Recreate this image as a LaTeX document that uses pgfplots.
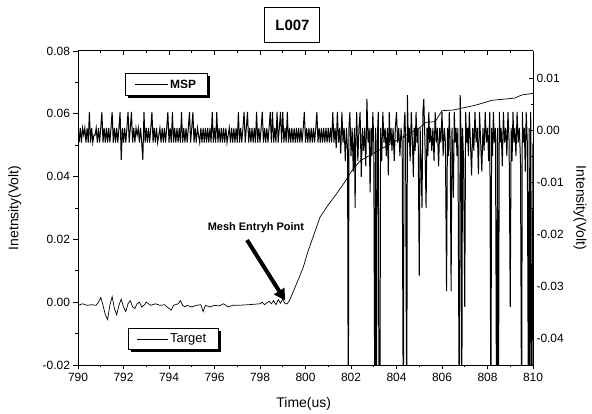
\documentclass[border=0pt]{standalone}
\usepackage{fontspec}
\setmainfont{Liberation Sans}
\usepackage{pgfplots}
\pgfplotsset{compat=1.18}
\usetikzlibrary{arrows.meta, shadows}

\begin{document}
\begin{tikzpicture}
\tikzset{
  legbox/.style={draw, line width=0.8pt, fill=white, anchor=north west,
    drop shadow={shadow xshift=3bp, shadow yshift=-3bp, fill=black, opacity=1}},
  labfont/.style={font=\fontsize{14}{16}\selectfont},
}
\pgfplotsset{
  every axis/.append style={
    scale only axis, width=455bp, height=314bp,
    xmin=790, xmax=810,
    xtick={790,792,...,810}, minor x tick num=1,
    axis line style={line width=1pt},
    major tick style={line width=0.9pt, black}, minor tick style={line width=0.8pt, black},
    major tick length=4.5bp, minor tick length=2.5bp,
    tick label style={font=\fontsize{12}{14}\selectfont},
    /pgf/number format/assume math mode=true,
    scaled y ticks=false, scaled x ticks=false,
  },
}
% left axis: Target
\begin{axis}[
  axis x line*=bottom, axis y line*=left,
  tick align=outside,
  ymin=-0.02, ymax=0.08,
  ytick={-0.02,0,0.02,0.04,0.06,0.08}, minor y tick num=1,
  yticklabel={\pgfmathprintnumber[fixed, fixed zerofill, precision=2]{\tick}},
  xticklabel={\pgfmathprintnumber[fixed, precision=0]{\tick}},
  xlabel={Time(us)},
  ylabel={Inetnsity(Volt)},
  every axis x label/.style={at={(axis description cs:0.496,-0.124)}, anchor=center, labfont},
  every axis y label/.style={at={(axis description cs:-0.139,0.5)}, anchor=center, rotate=90, labfont},
]
\addplot[black, line width=0.7pt] coordinates {
(790.0,-0.0010) (790.2,-0.0005) (790.4,-0.0010) (790.6,-0.0008) (790.8,-0.0010)
(790.9,0.0000) (791.0,0.0015) (791.1,-0.0010) (791.2,-0.0040) (791.3,-0.0055)
(791.4,-0.0010) (791.5,0.0018) (791.6,-0.0020) (791.7,-0.0040) (791.8,-0.0010)
(791.9,0.0010) (792.0,-0.0015) (792.1,-0.0030) (792.2,-0.0005) (792.3,0.0005)
(792.4,-0.0015) (792.5,-0.0020) (792.6,-0.0005) (792.7,0.0000) (792.8,-0.0015)
(792.9,-0.0010) (793.0,0.0000) (793.2,-0.0010) (793.4,-0.0005) (793.6,-0.0010)
(793.8,-0.0008) (794.0,-0.0020) (794.1,-0.0025) (794.2,-0.0010) (794.4,-0.0005)
(794.5,0.0005) (794.6,-0.0010) (794.7,-0.0015) (794.8,-0.0010) (795.0,-0.0015)
(795.2,-0.0010) (795.4,-0.0008) (795.5,-0.0030) (795.6,-0.0010) (795.8,-0.0015)
(796.0,-0.0010) (796.2,-0.0012) (796.4,-0.0005) (796.6,-0.0015) (796.8,-0.0010)
(797.0,-0.0010) (797.5,-0.0008) (798.0,-0.0005) (798.1,0.0000) (798.2,-0.0008)
(798.4,0.0003) (798.5,-0.0005) (798.6,0.0005) (798.7,-0.0008) (798.8,0.0008)
(798.9,-0.0003) (799.0,0.0010) (799.1,-0.0005) (799.2,-0.0005) (799.3,0.0006)
(799.5,0.0040) (799.7,0.0075) (799.9,0.0111) (800.1,0.0160) (800.33,0.0207)
(800.64,0.0271) (801.0,0.0310) (801.38,0.0347) (801.7,0.0380) (802.05,0.0420)
(802.4,0.0450) (803.0,0.0475) (804.0,0.0515) (805.0,0.0555) (805.3,0.0573)
(805.7,0.0575) (806.0,0.0610) (806.5,0.0612) (807.0,0.0620) (807.45,0.0627)
(808.2,0.0643) (809.2,0.0650) (809.5,0.0660) (810.0,0.0665)
};
\draw[line width=4bp, -{Triangle[length=11bp, width=12bp]}]
  (axis cs:797.43,0.0198) -- (axis cs:799.1,0.0006);
\node[font=\bfseries\fontsize{11}{13}\selectfont] at (axis cs:797.82,0.0236) {Mesh Entryh Point};
\coordinate (titlepos) at (axis description cs:0.4714,1.0815);
\coordinate (tlegpos) at (axis description cs:0.1099,0.1178);
\coordinate (mlegpos) at (axis description cs:0.1033,0.930);
\end{axis}
% right axis: MSP
\begin{axis}[
  axis x line*=top, axis y line*=right,
  tick align=inside,
  xticklabels={},
  ymin=-0.0452, ymax=0.0152,
  ytick={-0.04,-0.03,-0.02,-0.01,0,0.01}, minor y tick num=1,
  yticklabel={\pgfmathprintnumber[fixed, fixed zerofill, precision=2]{\tick}},
  ylabel={Intensity(Volt)},
  every axis y label/.style={at={(axis description cs:1.103,0.5)}, anchor=center, rotate=-90, labfont},
]
\addplot[black, line width=1pt] coordinates {
(790.00,0.0004) (790.05,-0.0024) (790.10,0.0004) (790.15,-0.0024) (790.20,0.0004)
(790.25,-0.0010) (790.30,0.0004) (790.35,-0.0024) (790.40,0.0004) (790.45,-0.0024)
(790.50,0.0035) (790.55,-0.0024) (790.60,0.0004) (790.65,-0.0024) (790.70,-0.0010)
(790.75,-0.0010) (790.80,0.0004) (790.85,-0.0024) (790.90,0.0004) (790.95,-0.0024)
(791.00,0.0004) (791.05,0.0035) (791.10,-0.0024) (791.15,0.0004) (791.20,-0.0024)
(791.25,0.0004) (791.30,-0.0024) (791.35,0.0004) (791.40,-0.0024) (791.45,0.0004)
(791.50,0.0035) (791.55,-0.0024) (791.60,0.0004) (791.65,-0.0024) (791.70,0.0004)
(791.75,-0.0024) (791.80,0.0004) (791.85,0.0035) (791.90,-0.0058) (791.95,0.0004)
(792.00,-0.0024) (792.05,0.0004) (792.10,-0.0024) (792.15,0.0004) (792.20,0.0035)
(792.25,-0.0024) (792.30,0.0004) (792.35,0.0035) (792.40,-0.0024) (792.45,0.0004)
(792.50,-0.0024) (792.55,0.0004) (792.60,-0.0010) (792.65,0.0004) (792.70,-0.0024)
(792.75,0.0004) (792.80,-0.0024) (792.85,-0.0058) (792.90,0.0035) (792.95,-0.0024)
(793.00,0.0004) (793.05,-0.0024) (793.10,0.0004) (793.15,-0.0024) (793.20,0.0004)
(793.25,0.0035) (793.30,-0.0024) (793.35,0.0004) (793.40,-0.0024) (793.45,0.0004)
(793.50,-0.0024) (793.55,-0.0010) (793.60,0.0004) (793.65,-0.0024) (793.70,0.0004)
(793.75,-0.0024) (793.80,0.0004) (793.85,-0.0024) (793.90,0.0004) (793.95,0.0035)
(794.00,-0.0024) (794.05,0.0004) (794.10,-0.0024) (794.15,0.0035) (794.20,-0.0024)
(794.25,0.0004) (794.30,-0.0024) (794.35,0.0004) (794.40,-0.0024) (794.45,0.0004)
(794.50,-0.0024) (794.55,0.0035) (794.60,-0.0024) (794.65,0.0004) (794.70,-0.0024)
(794.75,0.0004) (794.80,-0.0024) (794.85,0.0004) (794.90,0.0035) (794.95,-0.0024)
(795.00,0.0004) (795.05,0.0035) (795.10,-0.0024) (795.15,0.0004) (795.20,-0.0024)
(795.25,0.0004) (795.30,-0.0010) (795.35,-0.0024) (795.40,0.0004) (795.45,-0.0024)
(795.50,0.0004) (795.55,-0.0024) (795.60,0.0004) (795.65,-0.0024) (795.70,0.0004)
(795.75,-0.0024) (795.80,0.0004) (795.85,-0.0024) (795.90,0.0035) (795.95,-0.0024)
(796.00,0.0004) (796.05,-0.0024) (796.10,0.0035) (796.15,-0.0024) (796.20,0.0004)
(796.25,-0.0024) (796.30,0.0004) (796.35,-0.0024) (796.40,0.0004) (796.45,-0.0024)
(796.50,0.0004) (796.55,-0.0024) (796.60,-0.0010) (796.65,0.0004) (796.70,-0.0024)
(796.75,0.0004) (796.80,-0.0024) (796.85,0.0004) (796.90,-0.0024) (796.95,0.0004)
(797.00,-0.0024) (797.05,0.0035) (797.10,-0.0024) (797.15,0.0004) (797.20,-0.0024)
(797.25,0.0004) (797.30,0.0035) (797.35,-0.0024) (797.40,0.0004) (797.45,0.0035)
(797.50,-0.0024) (797.55,0.0004) (797.60,-0.0024) (797.65,0.0004) (797.70,-0.0024)
(797.75,0.0004) (797.80,-0.0024) (797.85,0.0035) (797.90,-0.0024) (797.95,0.0004)
(798.00,-0.0024) (798.05,0.0004) (798.10,0.0035) (798.15,-0.0024) (798.20,0.0004)
(798.25,-0.0024) (798.30,0.0004) (798.35,-0.0024) (798.40,0.0004) (798.45,0.0035)
(798.50,-0.0024) (798.55,0.0035) (798.60,-0.0024) (798.65,0.0004) (798.70,-0.0024)
(798.75,0.0035) (798.80,-0.0024) (798.85,0.0004) (798.90,0.0035) (798.95,-0.0024)
(799.00,0.0035) (799.05,-0.0024) (799.10,0.0004) (799.15,-0.0024) (799.20,0.0035)
(799.25,-0.0024) (799.30,0.0004) (799.35,-0.0024) (799.40,0.0004) (799.45,-0.0024)
(799.50,0.0004) (799.55,-0.0024) (799.60,0.0004) (799.65,-0.0024) (799.70,0.0004)
(799.75,-0.0024) (799.80,0.0004) (799.85,-0.0024) (799.90,0.0004) (799.95,0.0035)
(800.00,-0.0024) (800.05,0.0004) (800.10,-0.0024) (800.15,0.0004) (800.20,-0.0024)
(800.25,0.0004) (800.30,-0.0024) (800.35,0.0004) (800.40,-0.0024) (800.45,0.0004)
(800.50,0.0035) (800.55,-0.0024) (800.60,0.0004) (800.65,-0.0024) (800.70,0.0004)
(800.75,-0.0024) (800.80,0.0004) (800.85,-0.0024) (800.90,0.0004) (800.95,-0.0024)
(801.00,0.0004) (801.05,-0.0024) (801.10,0.0004) (801.15,-0.0024) (801.20,0.0035)
(801.25,-0.0024) (801.30,0.0004) (801.35,-0.0035) (801.40,0.0035) (801.45,-0.0024)
(801.50,0.0004) (801.55,-0.0045) (801.60,0.0035) (801.65,-0.0024) (801.70,0.0004)
(801.75,-0.0060) (801.80,0.0004) (801.85,-0.0040) (801.88,-0.0600) (801.91,0.0004)
(801.95,0.0035) (802.00,-0.0050) (802.05,0.0004) (802.10,-0.0080) (802.15,0.0004)
(802.18,-0.0150) (802.21,-0.0024) (802.25,0.0035) (802.30,-0.0060) (802.35,0.0004)
(802.40,0.0035) (802.45,-0.0090) (802.50,0.0004) (802.55,-0.0040) (802.60,0.0004)
(802.65,-0.0070) (802.70,0.0060) (802.75,-0.0024) (802.80,0.0004) (802.84,-0.0120)
(802.88,0.0004) (802.92,-0.0050) (802.96,0.0035) (803.00,-0.0024) (803.05,-0.0600)
(803.08,0.0004) (803.12,-0.0600) (803.15,-0.0024) (803.20,0.0035) (803.23,-0.0600)
(803.27,-0.0600) (803.30,0.0004) (803.35,-0.0060) (803.40,0.0035) (803.45,-0.0024)
(803.50,0.0004) (803.55,-0.0050) (803.60,0.0004) (803.64,-0.0087) (803.68,0.0035)
(803.72,-0.0024) (803.76,0.0004) (803.80,-0.0040) (803.85,0.0004) (803.90,-0.0060)
(803.95,0.0004) (804.00,0.0035) (804.05,-0.0024) (804.10,0.0004) (804.15,-0.0050)
(804.20,0.0004) (804.25,-0.0024) (804.30,-0.0600) (804.33,0.0004) (804.37,0.0035)
(804.40,-0.0024) (804.45,-0.0600) (804.48,0.0067) (804.52,-0.0024) (804.56,0.0004)
(804.60,-0.0060) (804.65,0.0035) (804.70,-0.0024) (804.74,-0.0090) (804.78,0.0004)
(804.82,-0.0040) (804.86,0.0035) (804.90,-0.0024) (804.95,0.0004) (805.00,-0.0280)
(805.04,0.0004) (805.08,-0.0060) (805.12,-0.0150) (805.16,0.0035) (805.20,0.0060)
(805.25,-0.0024) (805.30,-0.0150) (805.34,0.0004) (805.38,-0.0050) (805.42,0.0035)
(805.46,-0.0024) (805.50,0.0004) (805.55,-0.0040) (805.60,0.0004) (805.65,-0.0060)
(805.70,0.0035) (805.75,-0.0024) (805.80,0.0004) (805.85,-0.0070) (805.90,0.0004)
(805.95,-0.0024) (806.00,0.0035) (806.05,-0.0050) (806.10,0.0004) (806.15,-0.0024)
(806.20,-0.0310) (806.24,0.0004) (806.28,-0.0050) (806.32,0.0035) (806.36,-0.0024)
(806.40,-0.0310) (806.44,0.0004) (806.50,-0.0130) (806.54,0.0035) (806.58,-0.0024)
(806.62,0.0004) (806.66,-0.0050) (806.70,0.0004) (806.76,-0.0600) (806.80,0.0067)
(806.84,-0.0024) (806.87,-0.0600) (806.90,0.0004) (806.95,-0.0060) (807.00,-0.0340)
(807.04,0.0035) (807.08,-0.0024) (807.12,0.0004) (807.16,-0.0050) (807.20,0.0035)
(807.25,-0.0024) (807.30,-0.0087) (807.35,0.0004) (807.40,-0.0040) (807.45,0.0035)
(807.50,-0.0024) (807.55,0.0004) (807.60,-0.0085) (807.65,0.0035) (807.70,-0.0024)
(807.75,-0.0080) (807.80,0.0004) (807.85,-0.0040) (807.90,0.0035) (807.95,-0.0024)
(808.00,0.0004) (808.05,-0.0060) (808.10,0.0035) (808.15,-0.0600) (808.18,0.0004)
(808.22,-0.0050) (808.26,0.0035) (808.30,-0.0024) (808.35,0.0004) (808.40,-0.0600)
(808.44,0.0004) (808.48,-0.0600) (808.52,0.0035) (808.56,-0.0024) (808.60,0.0004)
(808.65,-0.0070) (808.70,0.0035) (808.75,-0.0024) (808.80,0.0004) (808.85,-0.0050)
(808.90,0.0035) (808.95,-0.0024) (809.00,-0.0340) (809.04,0.0004) (809.08,-0.0060)
(809.12,0.0035) (809.16,-0.0024) (809.20,0.0004) (809.25,-0.0050) (809.30,0.0035)
(809.35,-0.0024) (809.40,0.0004) (809.45,-0.0060) (809.50,-0.0600) (809.53,0.0035)
(809.57,-0.0024) (809.62,0.0004) (809.66,-0.0080) (809.70,0.0035) (809.75,-0.0024)
(809.80,-0.0600) (809.83,0.0004) (809.87,-0.0600) (809.90,0.0035) (809.95,-0.0600)
(810.00,-0.0024)
};
\end{axis}
% title and the two legends
\node[draw, line width=1pt, minimum width=55bp, minimum height=35bp,
  font=\bfseries\fontsize{15}{17}\selectfont] at (titlepos) {L007};
\node[legbox, minimum width=90bp, minimum height=21bp] (tleg) at (tlegpos) {};
\draw[line width=0.6pt] ([xshift=9bp]tleg.west) -- ([xshift=40bp]tleg.west);
\node[anchor=west, inner sep=0pt, font=\fontsize{13}{15}\selectfont] at ([xshift=42bp]tleg.west) {Target};
\node[legbox, minimum width=82bp, minimum height=22bp] (mleg) at (mlegpos) {};
\draw[line width=0.6pt] ([xshift=10bp]mleg.west) -- ([xshift=43bp]mleg.west);
\node[anchor=west, inner sep=0pt, font=\bfseries\fontsize{12}{14}\selectfont] at ([xshift=45bp]mleg.west) {MSP};
\path (-78bp,-49bp) rectangle (514bp,365bp);
\end{tikzpicture}
\end{document}
